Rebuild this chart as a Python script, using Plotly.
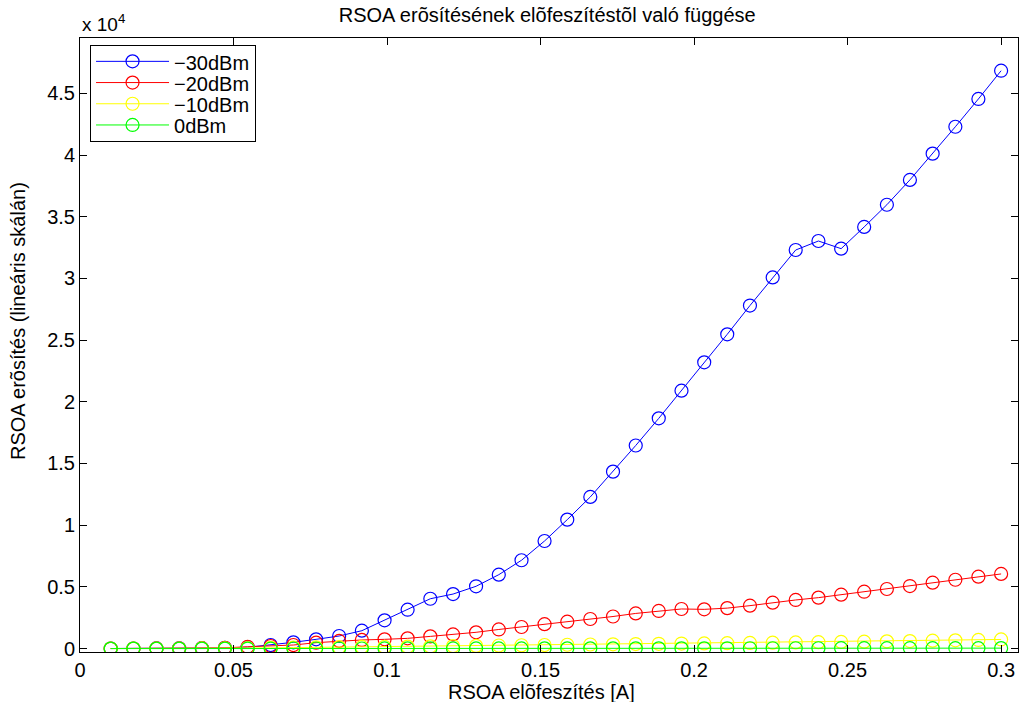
import plotly.graph_objects as go

# Bias current [A]
bias = [0.0100, 0.0174, 0.0249, 0.0323, 0.0397, 0.0472, 0.0546, 0.0621, 0.0695, 0.0769,
        0.0844, 0.0918, 0.0992, 0.1067, 0.1141, 0.1215, 0.1290, 0.1364, 0.1438, 0.1513,
        0.1587, 0.1662, 0.1736, 0.1810, 0.1885, 0.1959, 0.2033, 0.2108, 0.2182, 0.2256,
        0.2331, 0.2405, 0.2479, 0.2554, 0.2628, 0.2703, 0.2777, 0.2851, 0.2926, 0.3000]

gain_m30 = [5, 8, 12, 20, 35, 60, 110, 290, 510, 750,
            1020, 1450, 2290, 3150, 4040, 4420, 5050, 5990, 7160, 8720,
            10450, 12290, 14340, 16460, 18660, 20900, 23200, 25470, 27800, 30080,
            32300, 33030, 32410, 34170, 35970, 37980, 40110, 42290, 44540, 46830]

gain_m20 = [5, 8, 12, 18, 30, 60, 150, 210, 290, 480,
            620, 700, 750, 830, 990, 1150, 1320, 1550, 1750, 1980,
            2180, 2400, 2600, 2850, 3050, 3210, 3180, 3280, 3480, 3720,
            3940, 4130, 4370, 4610, 4830, 5070, 5340, 5580, 5830, 6050]

gain_m10 = [0, 2, 4, 6, 10, 20, 40, 60, 80, 100,
            120, 135, 150, 165, 185, 205, 225, 250, 270, 290,
            310, 330, 350, 370, 390, 410, 420, 440, 460, 480,
            500, 520, 540, 560, 590, 610, 640, 670, 700, 740]

gain_0 = [0, 0, 1, 1, 2, 3, 4, 5, 6, 7,
          8, 9, 10, 11, 12, 13, 14, 15, 16, 17,
          18, 19, 20, 21, 22, 23, 24, 25, 26, 27,
          28, 29, 30, 31, 32, 33, 34, 35, 36, 37]

series_names = ["\u221230dBm", "\u221220dBm", "\u221210dBm", "0dBm"]
series_colors = ["#0000ff", "#ff0000", "#ffff00", "#00ff00"]

y_tick_vals = [0, 5000, 10000, 15000, 20000, 25000, 30000, 35000, 40000, 45000]
y_tick_text = ["0", "0.5", "1", "1.5", "2", "2.5", "3", "3.5", "4", "4.5"]
x_tick_vals = [0, 0.05, 0.1, 0.15, 0.2, 0.25, 0.3]
x_tick_text = ["0", "0.05", "0.1", "0.15", "0.2", "0.25", "0.3"]

title_text = "RSOA erõsítésének elõfeszítéstõl való függése"
x_title = "RSOA elõfeszítés [A]"
y_title = "RSOA erõsítés (lineáris skálán)"

FONT = "Liberation Sans, Arial, Helvetica, sans-serif"

fig = go.Figure()
for name, col, ys in zip(series_names, series_colors, [gain_m30, gain_m20, gain_m10, gain_0]):
    fig.add_trace(go.Scatter(
        x=bias, y=ys, mode="lines+markers",
        name='<span style="font-size:20px;baseline-shift:-3px">' + name + '</span>',
        line=dict(color=col, width=1),
        marker=dict(symbol="circle-open", size=13, color=col, line=dict(width=1.2, color=col)),
    ))

fig.update_layout(
    template="none",
    width=1019, height=702,
    margin=dict(l=80, r=1, t=38, b=50),
    paper_bgcolor="white", plot_bgcolor="white",
    font=dict(family=FONT, size=20, color="black"),
    title=dict(text=title_text,
               x=0.537, xanchor="center", y=0.978, yanchor="middle",
               font=dict(family=FONT, size=20, color="black")),
    showlegend=True,
    legend=dict(x=0.0107, y=0.989, xanchor="left", yanchor="top",
                bgcolor="white", bordercolor="black", borderwidth=1,
                font=dict(family=FONT, size=14, color="black"),
                itemwidth=73, tracegroupgap=0),
    xaxis=dict(range=[0, 0.3055], tickvals=x_tick_vals, ticktext=x_tick_text,
               ticks="inside", ticklen=7, tickcolor="black", tickwidth=1,
               showline=True, linecolor="black", linewidth=1, mirror="ticks",
               showgrid=False, zeroline=False, automargin=False,
               tickfont=dict(size=20), ticklabelstandoff=0),
    yaxis=dict(range=[-276, 49481], tickvals=y_tick_vals, ticktext=y_tick_text,
               ticks="inside", ticklen=7, tickcolor="black", tickwidth=1,
               showline=True, linecolor="black", linewidth=1, mirror="ticks",
               showgrid=False, zeroline=False, automargin=False,
               tickfont=dict(size=20)),
    annotations=[
        dict(text="x 10<sup>4</sup>", xref="paper", yref="paper",
             x=0, y=1, xanchor="left", yanchor="bottom", yshift=1,
             showarrow=False, font=dict(family=FONT, size=19, color="black")),
        dict(text=x_title, xref="paper", yref="paper",
             x=0.4925, y=-0.0645, xanchor="center", yanchor="middle",
             showarrow=False, font=dict(family=FONT, size=20, color="black")),
        dict(text=y_title, xref="paper", yref="paper", textangle=-90,
             x=-0.0661, y=0.539, xanchor="center", yanchor="middle",
             showarrow=False, font=dict(family=FONT, size=20, color="black")),
    ],
)

fig.write_html("out.html")
